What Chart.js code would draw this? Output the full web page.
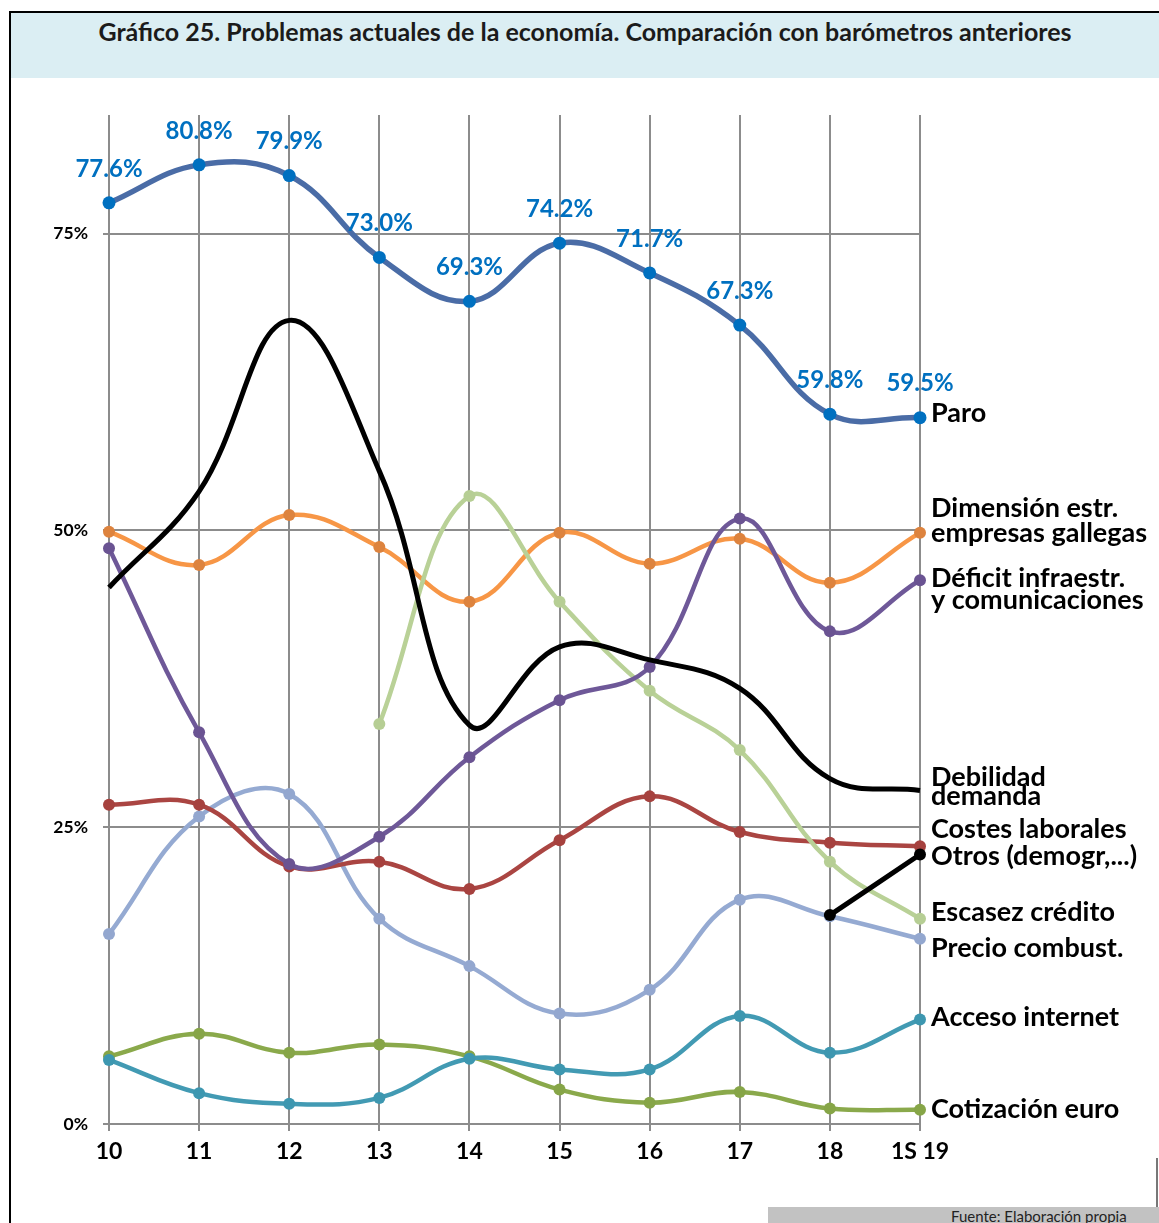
<!DOCTYPE html>
<html><head><meta charset="utf-8">
<script src="https://cdn.jsdelivr.net/npm/chart.js@4.4.1/dist/chart.umd.min.js"></script>
<style>
html,body{margin:0;padding:0;background:#fff;}
body{width:1159px;height:1223px;position:relative;overflow:hidden;font-family:Lato,"Open Sans",sans-serif;}
#frame{position:absolute;left:9px;top:11px;width:1200px;height:1300px;border-left:2px solid #000;border-top:2px solid #000;}
#head{position:absolute;left:11px;top:13px;width:1148px;height:65px;background:#DBEEF3;}
#title{position:absolute;left:11px;top:16px;width:1148px;text-align:center;font-weight:bold;font-size:25px;line-height:30px;color:#1b1b1b;white-space:nowrap;}
#src{position:absolute;left:768px;top:1207px;width:391px;height:16px;background:#C2C2C2;overflow:hidden;}
#src span{position:absolute;left:183px;top:0px;font-size:15px;color:#222;white-space:nowrap;}
#rline{position:absolute;left:1156px;top:1158px;width:2px;height:49px;background:#777;}
#c{position:absolute;left:0;top:0;}
</style></head>
<body>
<div id="frame"></div>
<div id="head"></div>
<div id="title">Gráfico 25. Problemas actuales de la economía. Comparación con barómetros anteriores</div>
<div id="rline"></div>
<div id="src"><span>Fuente: Elaboración propia</span></div>
<canvas id="c" width="1159" height="1223"></canvas>
<script>
const categories = ['10','11','12','13','14','15','16','17','18','1S 19'];
const paro       = [77.6,80.8,79.9,73.0,69.3,74.2,71.7,67.3,59.8,59.5];
const dimension  = [49.9,47.1,51.3,48.6,44.0,49.8,47.2,49.3,45.6,49.8];
const deficit    = [48.5,33.0,21.9,24.2,30.9,35.7,38.5,51.0,41.5,45.8];
const debilidad  = [45.2,53.3,67.7,55.0,33.6,40.2,39.1,36.7,29.1,28.1];
const escasez    = [null,null,null,33.7,52.9,44.0,36.5,31.5,22.1,17.3];
const costes     = [26.9,26.9,21.7,22.1,19.8,23.9,27.6,24.6,23.7,23.4];
const precio     = [16.0,25.9,27.8,17.3,13.3,9.3,11.3,18.9,17.5,15.6];
const otros      = [null,null,null,null,null,null,null,null,17.6,22.7];
const acceso     = [5.4,2.6,1.7,2.2,5.5,4.6,4.6,9.1,6.0,8.8];
const cotizacion = [5.7,7.6,6.0,6.7,5.7,2.9,1.8,2.7,1.3,1.2];
const yTicks     = [0,25,50,75];

const FONT = 'Lato, "Open Sans", sans-serif';

function ds(label, data, line, marker, opts) {
  return Object.assign({
    label, data, borderColor: line, backgroundColor: marker,
    pointBackgroundColor: marker, pointBorderWidth: 0, pointRadius: 6,
    borderWidth: 4.5, tension: 0.4, clip: false, spanGaps: false
  }, opts || {});
}

const datasets = [
  ds('Paro', paro, '#4A6CA6', '#0070C0', {borderWidth: 5.5, pointRadius: 6.5}),
  ds('Debilidad demanda', debilidad, '#000000', '#000000', {borderWidth: 5, pointRadius: 0}),
  ds('Otros (demogr,...)', otros, '#000000', '#000000', {borderWidth: 5}),
  ds('Déficit infraestr. y comunicaciones', deficit, '#6E5898', '#6A5392'),
  ds('Escasez crédito', escasez, '#B9D197', '#B6CE94'),
  ds('Dimensión estr. empresas gallegas', dimension, '#F79646', '#DD833E'),
  ds('Costes laborales', costes, '#AA4542', '#A6413E'),
  ds('Precio combust.', precio, '#95AAD2', '#93A7CF'),
  ds('Acceso internet', acceso, '#429AB3', '#3D97B0'),
  ds('Cotización euro', cotizacion, '#8AA94B', '#86A547')
];

// end labels: dataset index, text lines, vertical offset from last point (px), line spacing
const endLabels = [
  {i: 0, lines: ['Paro'], dy: -4, lh: 0},
  {i: 5, lines: ['Dimensión estr.', 'empresas gallegas'], dy: -25, lh: 25},
  {i: 3, lines: ['Déficit infraestr.', 'y comunicaciones'], dy: -2, lh: 22},
  {i: 1, lines: ['Debilidad', 'demanda'], dy: -13, lh: 19},
  {i: 6, lines: ['Costes laborales'], dy: -17, lh: 0},
  {i: 2, lines: ['Otros (demogr,...)'], dy: 2, lh: 0},
  {i: 4, lines: ['Escasez crédito'], dy: -6, lh: 0},
  {i: 7, lines: ['Precio combust.'], dy: 9, lh: 0},
  {i: 8, lines: ['Acceso internet'], dy: -2, lh: 0},
  {i: 9, lines: ['Cotización euro'], dy: 0, lh: 0}
];

const labelsPlugin = {
  id: 'labelsPlugin',
  afterDatasetsDraw(chart) {
    const ctx = chart.ctx;
    const ys = chart.scales.y;
    const xs = chart.scales.x;
    ctx.save();
    // Paro value labels
    ctx.font = 'bold 24px ' + FONT;
    ctx.fillStyle = '#0070C0';
    ctx.textAlign = 'center';
    ctx.textBaseline = 'middle';
    paro.forEach((v, k) => {
      ctx.fillText(v.toFixed(1) + '%', xs.getPixelForValue(k), ys.getPixelForValue(v) - 34);
    });
    // end labels
    ctx.font = 'bold 27px ' + FONT;
    ctx.fillStyle = '#000';
    ctx.textAlign = 'left';
    const x0 = chart.chartArea.right + 11;
    endLabels.forEach(l => {
      const d = chart.data.datasets[l.i].data;
      const y0 = ys.getPixelForValue(d[d.length - 1]) + l.dy;
      l.lines.forEach((t, j) => ctx.fillText(t, x0, y0 + j * l.lh));
    });
    ctx.restore();
  }
};

new Chart(document.getElementById('c'), {
  type: 'line',
  data: {labels: categories, datasets},
  options: {
    responsive: false, animation: false,
    layout: {padding: {top: 115, right: 239, left: 0, bottom: 59}},
    plugins: {legend: {display: false}, tooltip: {enabled: false}},
    scales: {
      x: {
        offset: false,
        grid: {color: '#8C8C8C', lineWidth: 2, tickLength: 7},
        border: {color: '#8C8C8C', width: 2},
        ticks: {font: {family: FONT, weight: 'bold', size: 23}, color: '#000', padding: 7, maxRotation: 0, autoSkip: false},
        afterFit(s) { s.height = 40; }
      },
      y: {
        min: 0, max: 85,
        afterBuildTicks(s) { s.ticks = yTicks.map(v => ({value: v})); },
        grid: {color: '#8C8C8C', lineWidth: 2, tickLength: 6},
        border: {display: false},
        ticks: {font: {family: FONT, weight: 'bold', size: 17.5}, color: '#000', padding: 15, callback: v => v + '%'},
        afterFit(s) { s.width = 109; }
      }
    }
  },
  plugins: [labelsPlugin]
});
</script>
</body></html>
